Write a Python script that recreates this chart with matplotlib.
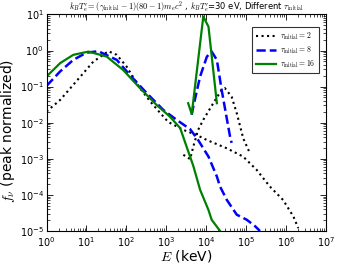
import numpy as np
import matplotlib
matplotlib.use("Agg")
import matplotlib.pyplot as plt
from matplotlib.ticker import LogLocator, NullFormatter

plt.rcParams['mathtext.fontset'] = 'cm'
plt.rcParams['font.family'] = ['DejaVu Sans']

# log10(E/keV), log10(f)
g_main_logE = [0.0, 0.34, 0.67, 1.05, 1.51, 1.92, 2.34, 2.76, 3.09, 3.35, 3.51, 3.68, 3.85, 4.06, 4.14, 4.35]
g_main_logf = [-0.72, -0.35, -0.12, -0.03, -0.17, -0.54, -1.04, -1.51, -1.83, -2.15, -2.66, -3.20, -3.86, -4.42, -4.69, -5.0]
g_spike_logE = [3.55, 3.64, 3.93, 4.06, 4.27]
g_spike_logf = [-1.46, -1.76, 0.94, 0.66, -1.46]

b_main_logE = [0.0, 0.34, 0.67, 1.0, 1.3, 1.76, 2.09, 2.51, 2.76, 2.93, 3.26, 3.6, 3.8, 4.06, 4.27, 4.35, 4.52, 4.77, 5.02, 5.23, 5.35]
b_main_logf = [-0.98, -0.58, -0.26, -0.06, -0.02, -0.26, -0.68, -1.18, -1.46, -1.65, -1.92, -2.18, -2.48, -2.94, -3.49, -3.77, -4.14, -4.55, -4.69, -4.87, -5.0]
b_spike_logE = [3.64, 3.68, 3.85, 4.02, 4.14, 4.27, 4.39, 4.6, 4.64]
b_spike_logf = [-1.78, -1.55, -0.72, -0.17, -0.03, -0.26, -1.09, -2.38, -2.56]

k_main_logE = [0.0, 0.34, 0.67, 0.92, 1.17, 1.55, 1.76, 2.01, 2.34, 2.59, 2.84, 3.05, 3.43, 3.76, 4.02, 4.52, 4.93, 5.27, 5.6, 5.93, 6.19, 6.31]
k_main_logf = [-1.69, -1.37, -0.95, -0.63, -0.31, -0.02, -0.12, -0.45, -1.04, -1.40, -1.72, -1.98, -2.2, -2.34, -2.48, -2.71, -2.94, -3.31, -3.77, -4.14, -4.6, -4.92]
k_spike_logE = [3.43, 3.6, 3.68, 3.8, 3.93, 4.18, 4.39, 4.47, 4.64, 4.77, 4.93, 5.1]
k_spike_logf = [-2.89, -3.01, -2.66, -2.2, -1.92, -1.46, -1.09, -1.04, -1.28, -1.74, -2.43, -2.85]

labels = [r'$\tau_{\rm initial}=2$', r'$\tau_{\rm initial}=8$', r'$\tau_{\rm initial}=16$']

def p(a):
    return 10 ** np.asarray(a)

fig = plt.figure(figsize=(3.4, 2.67), dpi=100)
ax = fig.add_axes([0.137, 0.135, 0.821, 0.811])

ax.plot(p(k_main_logE), p(k_main_logf), color='black', ls=':', lw=1.5, label=labels[0])
ax.plot(p(k_spike_logE), p(k_spike_logf), color='black', ls=':', lw=1.5)
ax.plot(p(b_main_logE), p(b_main_logf), color='blue', ls='--', lw=1.8, label=labels[1])
ax.plot(p(b_spike_logE), p(b_spike_logf), color='blue', ls='--', lw=1.8)
ax.plot(p(g_main_logE), p(g_main_logf), color='green', ls='-', lw=1.6, label=labels[2])
ax.plot(p(g_spike_logE), p(g_spike_logf), color='green', ls='-', lw=1.6)

ax.set_xscale('log')
ax.set_yscale('log')
ax.set_xlim(1, 1e7)
ax.set_ylim(1e-5, 1e1)
ax.xaxis.set_major_locator(LogLocator(base=10, numticks=20))
ax.yaxis.set_major_locator(LogLocator(base=10, numticks=20))
ax.xaxis.set_minor_locator(LogLocator(base=10, subs=np.arange(2, 10), numticks=20))
ax.yaxis.set_minor_locator(LogLocator(base=10, subs=np.arange(2, 10), numticks=20))
ax.xaxis.set_minor_formatter(NullFormatter())
ax.yaxis.set_minor_formatter(NullFormatter())
ax.tick_params(which='both', direction='in', top=True, right=True, labelsize=7)
ax.tick_params(which='major', length=4, width=0.6, pad=2)
ax.tick_params(which='minor', length=2, width=0.5)
ax.tick_params(axis='x', which='major', pad=3)
for s in ax.spines.values():
    s.set_linewidth(0.8)

ax.set_xlabel(r'$E$ (keV)', fontsize=10, labelpad=-1)
ax.set_ylabel(r'$f_\nu$ (peak normalized)', fontsize=10, labelpad=1)
ax.yaxis.set_label_coords(-0.105, 0.46)
ax.set_title(r"$k_BT_e^{\prime}=(\gamma_{\rm initial}-1)(80-1)m_ec^2$ , $k_BT_e^{\prime}$=30 eV, Different $\tau_{\rm initial}$",
             fontsize=6, pad=1.5)

leg = ax.legend(loc='upper right', fontsize=5.5, frameon=True, fancybox=False,
                edgecolor='black', handlelength=2.6, handletextpad=0.6,
                borderpad=0.45, labelspacing=0.35,
                bbox_to_anchor=(0.99, 0.96))
leg.get_frame().set_linewidth(0.8)

fig.savefig('out.png', dpi=100)
